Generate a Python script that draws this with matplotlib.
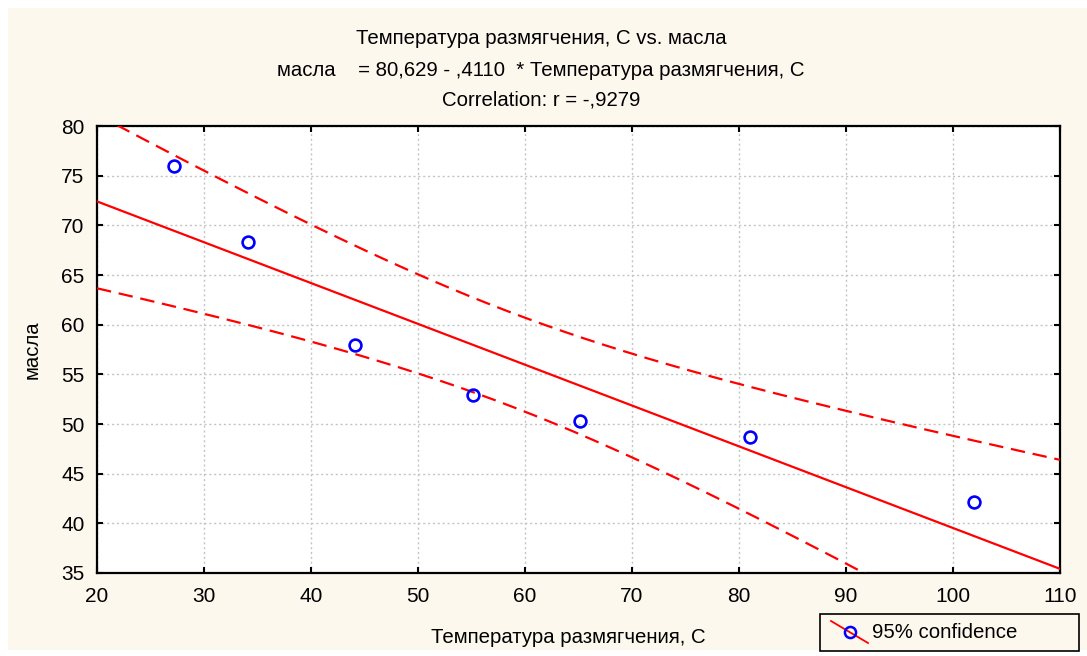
import numpy as np
import matplotlib
matplotlib.use("Agg")
import matplotlib.pyplot as plt
from matplotlib.patches import Rectangle
from matplotlib.lines import Line2D

# Data
temp = [27.2, 34.1, 44.1, 55.1, 65.1, 81.0, 102.0]
oil = [76.0, 68.3, 58.0, 52.9, 50.3, 48.7, 42.1]
intercept = 80.629
slope = -0.4110
t_crit = 2.5706  # t(0.975, df=5)
xticks = [20, 30, 40, 50, 60, 70, 80, 90, 100, 110]
yticks = [35, 40, 45, 50, 55, 60, 65, 70, 75, 80]
title_lines = ["Температура размягчения, C vs. масла",
               "масла    = 80,629 - ,4110  * Температура размягчения, C",
               "Correlation: r = -,9279"]
xlabel = "Температура размягчения, C"
ylabel = "масла"
legend_label = "95% confidence"

plt.rcParams['font.family'] = ['Liberation Sans', 'DejaVu Sans']

W, H = 1087, 656
fig = plt.figure(figsize=(W / 100, H / 100), dpi=100, facecolor='white')
cream = '#FCF8EE'
fig.patches.append(Rectangle((8 / W, 6 / H), 1 - 8 / W, 1 - 14 / H,
                             transform=fig.transFigure, facecolor=cream,
                             edgecolor='none', zorder=-10))

ax = fig.add_axes([97 / W, 1 - 573 / H, (1060 - 97) / W, (573 - 126) / H])
ax.set_facecolor('white')

x = np.array(temp)
y = np.array(oil)
n = len(x)
xs = np.linspace(20, 110, 400)
yhat = intercept + slope * xs
resid = y - (intercept + slope * x)
s = np.sqrt(np.sum(resid ** 2) / (n - 2))
sxx = np.sum((x - x.mean()) ** 2)
half = t_crit * s * np.sqrt(1 / n + (xs - x.mean()) ** 2 / sxx)

ax.plot(xs, yhat, color='#FF0000', lw=1.6, zorder=3)
ax.plot(xs, yhat + half, color='#FF0000', lw=1.6, ls=(0, (6.5, 3.5)), zorder=3)
ax.plot(xs, yhat - half, color='#FF0000', lw=1.6, ls=(0, (6.5, 3.5)), zorder=3)
ax.plot(x, y, ls='none', marker='o', ms=8.5, mfc='none', mec='#0000FF',
        mew=1.9, zorder=4)

ax.set_xlim(20, 110)
ax.set_ylim(35, 80)
ax.set_xticks(xticks)
ax.set_yticks(yticks)
ax.grid(True, color='#C4C4C4', ls=(0, (1.5, 2)), lw=1)
ax.tick_params(direction='in', length=4, width=1.5, top=True, right=True,
               labelsize=15, colors='black')
ax.tick_params(axis='x', pad=10)
ax.tick_params(axis='y', pad=9)
for sp in ax.spines.values():
    sp.set_linewidth(1.6)
    sp.set_color('black')

ax.set_xlabel(xlabel, fontsize=14.7)
ax.xaxis.set_label_coords(0.489, -0.122)
ax.set_ylabel(ylabel, fontsize=14.7)
ax.yaxis.set_label_coords(-0.057, 0.5)

ys = [38, 71, 100]
for t, yy in zip(title_lines, ys):
    fig.text(541 / W, 1 - yy / H, t, ha='center', va='center', fontsize=14.7)

# legend box
lx0, ly0, lx1, ly1 = 820, 614, 1079, 651
fig.patches.append(Rectangle((lx0 / W, 1 - ly1 / H), (lx1 - lx0) / W, (ly1 - ly0) / H,
                             transform=fig.transFigure, facecolor=cream,
                             edgecolor='black', lw=1.2))
fig.lines.append(Line2D([831 / W, 868 / W], [1 - 621 / H, 1 - 643 / H],
                        transform=fig.transFigure, color='#FF0000', lw=1.3))
fig.lines.append(Line2D([850 / W], [1 - 632 / H], transform=fig.transFigure,
                        marker='o', ms=8, mfc='none', mec='#0000FF', mew=1.8))
fig.text(872 / W, 1 - 633 / H, legend_label, ha='left', va='center', fontsize=14.7)

fig.savefig('out.png', dpi=100, facecolor='white')
